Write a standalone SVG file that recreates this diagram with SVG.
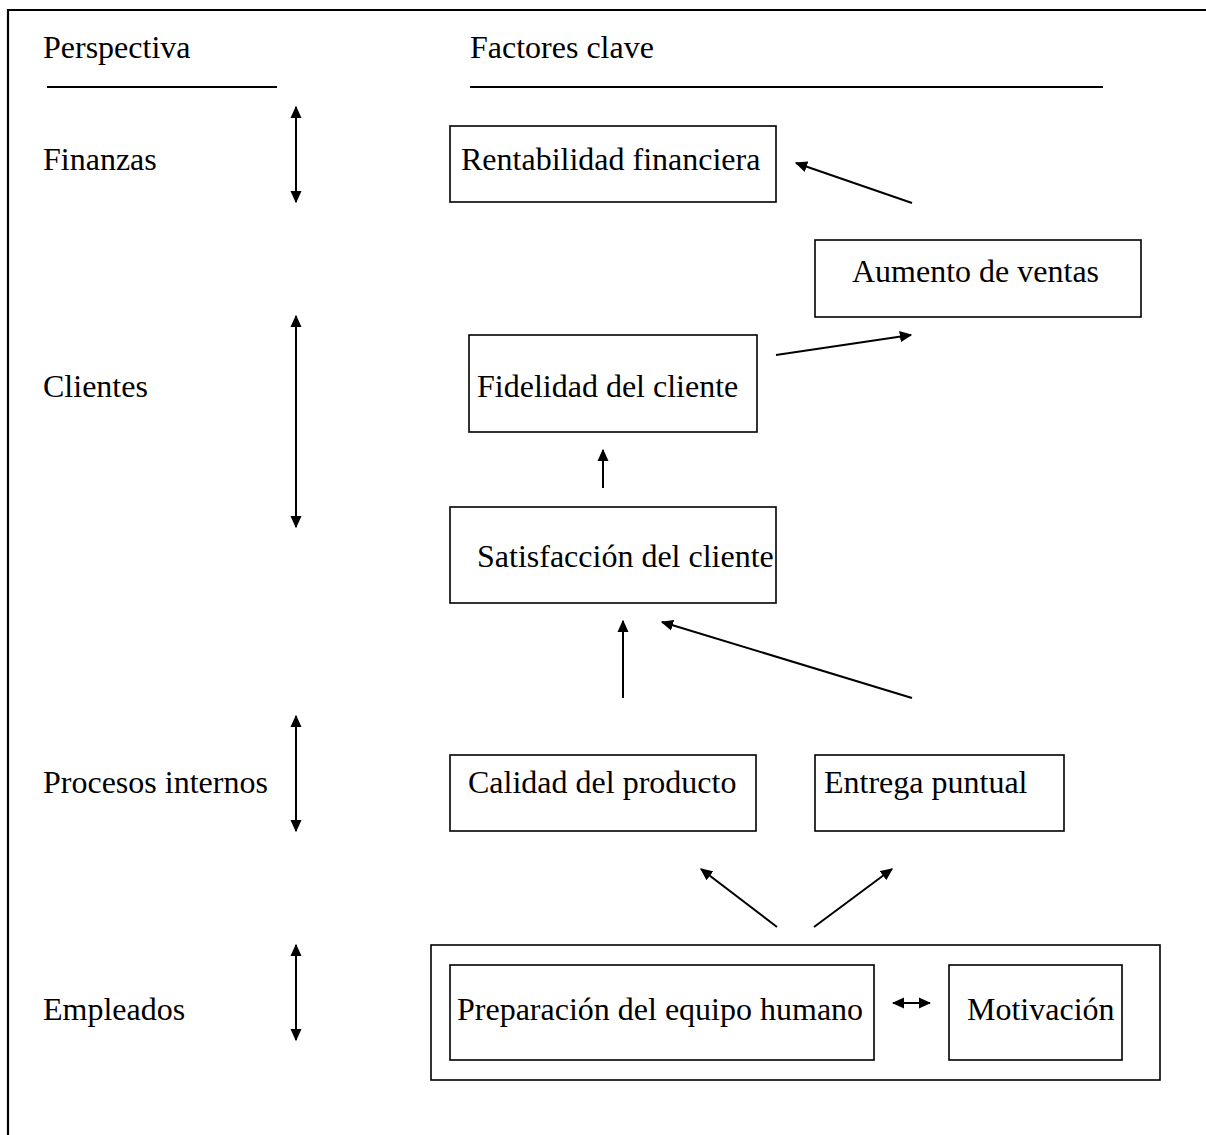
<svg xmlns="http://www.w3.org/2000/svg" width="1206" height="1135" viewBox="0 0 1206 1135">
  <style>
    text { font-family: "Liberation Serif", "Times New Roman", serif; font-size: 32px; fill: #000; }
    .box { fill: #fff; stroke: #000; stroke-width: 1.6; }
    .rule { stroke: #000; stroke-width: 2.2; fill: none; }
    .conn { stroke: #000; stroke-width: 2; fill: none; }
  </style>
  <defs>
    <marker id="head" viewBox="0 0 10 10" refX="9" refY="5" markerWidth="6.2" markerHeight="6.2" orient="auto-start-reverse" markerUnits="strokeWidth">
      <path d="M0,0.5 L10,5 L0,9.5 Z" fill="#000"/>
    </marker>
  </defs>
  <rect width="1206" height="1135" fill="#fff"/>

  <!-- page frame: top and left edges -->
  <path class="rule" d="M8,1135 V10 H1206" stroke-width="2"/>

  <!-- column headings -->
  <g id="headings">
    <text x="43" y="58">Perspectiva</text>
    <line class="rule" x1="47" y1="87" x2="277" y2="87"/>
    <text x="470" y="58">Factores clave</text>
    <line class="rule" x1="470" y1="87" x2="1103" y2="87"/>
  </g>

  <!-- perspective labels -->
  <g id="perspectives">
    <text x="43" y="170">Finanzas</text>
    <text x="43" y="397">Clientes</text>
    <text x="43" y="793">Procesos internos</text>
    <text x="43" y="1020">Empleados</text>
  </g>

  <g id="rentabilidad">
    <rect class="box" x="450" y="126" width="326" height="76"/>
    <text x="461" y="170">Rentabilidad financiera</text>
  </g>
  <g id="ventas">
    <rect class="box" x="815" y="240" width="326" height="77"/>
    <text x="852" y="282">Aumento de ventas</text>
  </g>
  <g id="fidelidad">
    <rect class="box" x="469" y="335" width="288" height="97"/>
    <text x="477" y="397">Fidelidad del cliente</text>
  </g>
  <g id="satisfaccion">
    <rect class="box" x="450" y="507" width="326" height="96"/>
    <text x="477" y="567">Satisfacción del cliente</text>
  </g>
  <g id="calidad">
    <rect class="box" x="450" y="755" width="306" height="76"/>
    <text x="468" y="793">Calidad del producto</text>
  </g>
  <g id="entrega">
    <rect class="box" x="815" y="755" width="249" height="76"/>
    <text x="824" y="793">Entrega puntual</text>
  </g>
  <g id="empleados">
    <rect class="box" x="431" y="945" width="729" height="135"/>
    <g id="preparacion">
      <rect class="box" x="450" y="965" width="424" height="95"/>
      <text x="457" y="1020">Preparación del equipo humano</text>
    </g>
    <g id="motivacion">
      <rect class="box" x="949" y="965" width="173" height="95"/>
      <text x="967" y="1020">Motivación</text>
    </g>
  </g>

  <g id="connectors">
    <!-- perspective span arrows -->
    <line class="conn" x1="296" y1="107" x2="296" y2="202" marker-start="url(#head)" marker-end="url(#head)"/>
    <line class="conn" x1="296" y1="316" x2="296" y2="527" marker-start="url(#head)" marker-end="url(#head)"/>
    <line class="conn" x1="296" y1="716" x2="296" y2="831" marker-start="url(#head)" marker-end="url(#head)"/>
    <line class="conn" x1="296" y1="945" x2="296" y2="1040" marker-start="url(#head)" marker-end="url(#head)"/>

    <!-- cause-effect links -->
    <line class="conn" x1="912" y1="203" x2="796" y2="163" marker-end="url(#head)"/>
    <line class="conn" x1="776" y1="355" x2="911" y2="335" marker-end="url(#head)"/>
    <line class="conn" x1="603" y1="488" x2="603" y2="450" marker-end="url(#head)"/>
    <line class="conn" x1="623" y1="698" x2="623" y2="621" marker-end="url(#head)"/>
    <line class="conn" x1="912" y1="698" x2="662" y2="622" marker-end="url(#head)"/>
    <line class="conn" x1="777" y1="927" x2="701" y2="869" marker-end="url(#head)"/>
    <line class="conn" x1="814" y1="927" x2="892" y2="869" marker-end="url(#head)"/>
    <line class="conn" x1="893" y1="1003" x2="930" y2="1003" marker-start="url(#head)" marker-end="url(#head)"/>
  </g>
</svg>
